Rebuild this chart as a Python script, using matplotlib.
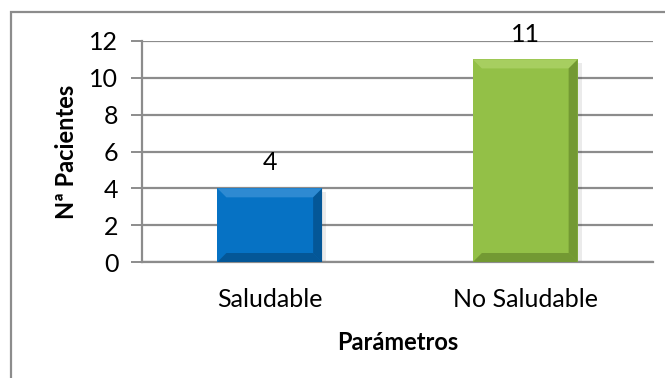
import matplotlib.pyplot as plt
from matplotlib.patches import Polygon, Rectangle
from matplotlib.transforms import IdentityTransform

categorias = ["Saludable", "No Saludable"]
pacientes = [4, 11]
colores = ["#0672C4", "#93C047"]
claros = ["#4A9BDC", "#B5D872"]
oscuros = ["#03467A", "#5E7F26"]

plt.rcParams["font.family"] = ["Lato", "DejaVu Sans"]

fig = plt.figure(figsize=(6.65, 3.78), dpi=100)
ax = fig.add_axes([142 / 665, 1 - 262 / 378, 511 / 665, 221 / 378])

# marco del gráfico
fig.patches.append(Rectangle((11 / 665, -0.1), 1.2, 1 - 12 / 378 + 0.1,
                             transform=fig.transFigure, fill=False,
                             edgecolor="#8c8c8c", linewidth=1.6))

x = range(len(categorias))
barras = ax.bar(x, pacientes, width=0.41, color=colores, zorder=3)

ax.set_ylim(0, 12)
ax.set_xlim(-0.5, 1.5)
ax.set_yticks(range(0, 13, 2))
ax.set_xticks(list(x))
ax.set_xticklabels(categorias, fontsize=18)
ax.tick_params(axis="x", length=0, pad=19)
ax.tick_params(axis="y", length=8, width=1.4, color="#8c8c8c", labelsize=18, pad=9)
ax.grid(axis="y", color="#8c8c8c", linewidth=1.6, zorder=0)
for lado in ["top", "right"]:
    ax.spines[lado].set_visible(False)
for lado in ["left", "bottom"]:
    ax.spines[lado].set_color("#8c8c8c")
    ax.spines[lado].set_linewidth(1.6)

ax.set_ylabel("Nª Pacientes", fontsize=17, fontweight="bold", labelpad=8)
ax.set_xlabel("Parámetros", fontsize=17, fontweight="bold", labelpad=14)

for b, v in zip(barras, pacientes):
    ax.annotate(str(v), (b.get_x() + b.get_width() / 2, v), xytext=(0, 10),
                textcoords="offset points", ha="center", va="bottom", fontsize=18)

# biselado de las barras
fig.canvas.draw()
d = 9
for b, claro, oscuro in zip(barras, claros, oscuros):
    (x0, y0), (x1, y1) = ax.transData.transform(
        [(b.get_x(), 0), (b.get_x() + b.get_width(), b.get_height())])
    caras = [
        ([(x0, y1), (x1, y1), (x1 - d, y1 - d), (x0 + d, y1 - d)], claro),
        ([(x1, y1), (x1, y0), (x1 - d, y0 + d), (x1 - d, y1 - d)], oscuro),
        ([(x0, y0), (x1, y0), (x1 - d, y0 + d), (x0 + d, y0 + d)], oscuro),
    ]
    for pts, c in caras:
        ax.add_patch(Polygon(pts, closed=True, transform=IdentityTransform(),
                             facecolor=c, edgecolor="none", alpha=0.6, zorder=4))
    # sombra
    ax.add_patch(Rectangle((x1, y0), 4, y1 - y0 - 4, transform=IdentityTransform(),
                           facecolor="#000000", alpha=0.08, edgecolor="none", zorder=2))

fig.savefig("out.png", dpi=100)
